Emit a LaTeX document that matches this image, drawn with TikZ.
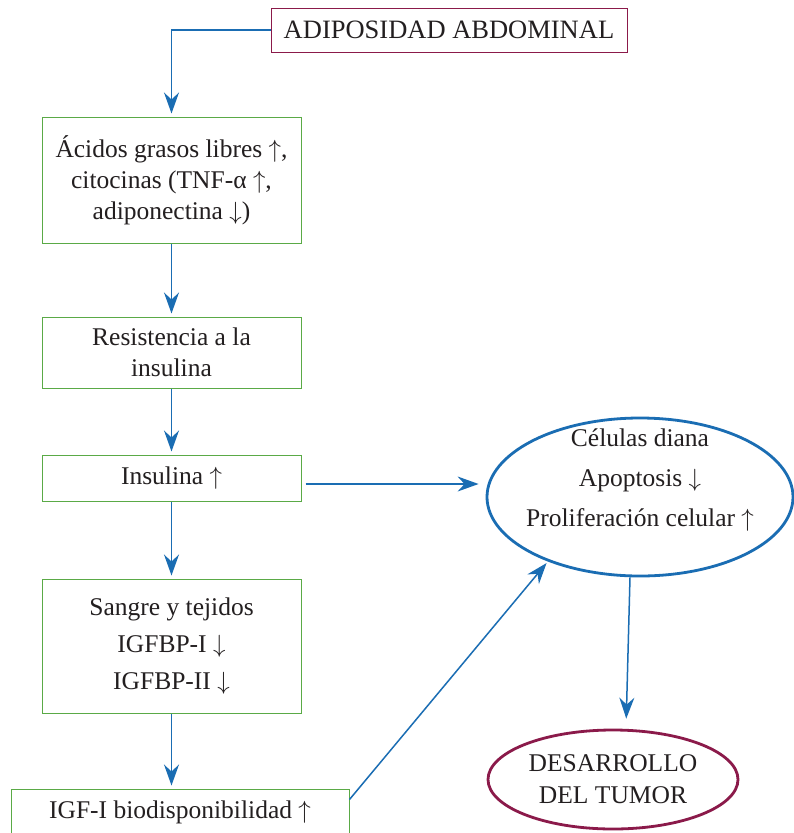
\documentclass[tikz,border=0pt]{standalone}
\usepackage{fontspec}
\setmainfont{Liberation Serif}
\usetikzlibrary{shapes.geometric,arrows.meta,calc}
\definecolor{boxgreen}{HTML}{5AAA46}
\definecolor{wine}{HTML}{8B1A4A}
\definecolor{flowblue}{HTML}{1A6DB3}
\definecolor{txt}{HTML}{231F20}
\begin{document}
\begin{tikzpicture}[x=1pt,y=-1pt,
  gbox/.style={draw=boxgreen, line width=1pt, minimum width=259pt, inner sep=0pt,
    align=center, text=txt, font=\fontsize{25.5}{31}\selectfont},
  arr/.style={draw=flowblue, line width=1.5pt, -{Stealth[length=21pt,width=15pt,inset=7pt]}, shorten >=3pt},
  txtnode/.style={align=center, text=txt, inner sep=0pt}]
\useasboundingbox (0,0) rectangle (794,833);
\fill[white] (0,0) rectangle (794,833);

\node[draw=wine, line width=1pt, minimum width=356pt, minimum height=44pt, inner sep=0pt,
  text=txt, font=\fontsize{26.5}{30}\selectfont] (adip) at (449,30) {ADIPOSIDAD ABDOMINAL};

\node[gbox, minimum height=126pt] (acidos) at (171.5,180)
  {Ácidos grasos libres $\uparrow$,\\ citocinas (TNF-α $\uparrow$,\\ adiponectina $\downarrow$)};
\node[gbox, minimum height=71pt] (resist) at (171.5,352.5) {Resistencia a la\\ insulina};
\node[gbox, minimum height=46pt] (insul) at (171.5,478) {Insulina $\uparrow$};
\node[gbox, minimum height=134pt, font=\fontsize{25.5}{37}\selectfont] (sangre) at (171.5,646)
  {Sangre y tejidos\\ IGFBP-I $\downarrow$\\ IGFBP-II $\downarrow$};
\node[gbox, minimum width=338pt, minimum height=46pt] (igf) at (180,812) {IGF-I biodisponibilidad $\uparrow$};

\node[ellipse, draw=flowblue, line width=2.8pt, minimum width=306pt, minimum height=158pt, inner sep=0pt] (cel) at (640,497) {};
\node[txtnode, font=\fontsize{25.5}{40}\selectfont] (celtxt) at (640,480)
  {Células diana\\ Apoptosis $\downarrow$\\ Proliferación celular $\uparrow$};

\node[ellipse, draw=wine, line width=2.8pt, minimum width=250pt, minimum height=99pt, inner sep=0pt,
  align=center, text=txt, font=\fontsize{25.5}{32}\selectfont] (tumor) at (613,779.5) {DESARROLLO\\ DEL TUMOR};

\draw[arr] (adip.west) -| (acidos.north);
\draw[arr] (acidos.south) -- (resist.north);
\draw[arr] (resist.south) -- (insul.north);
\draw[arr] (insul.south) -- (sangre.north);
\draw[arr] (sangre.south) -- (sangre.south |- igf.north);
\draw[arr, shorten >=7pt] ([shift={(4pt,-6pt)}]insul.east) -- ([yshift=-6pt]insul.east -| cel.west);
\draw[arr, shorten >=2pt] ([yshift=-11pt]igf.north east) -- (cel.215);
\draw[arr, shorten >=10pt] ([xshift=-10pt]cel.south) -- ([xshift=13pt]tumor.north);
\end{tikzpicture}
\end{document}
